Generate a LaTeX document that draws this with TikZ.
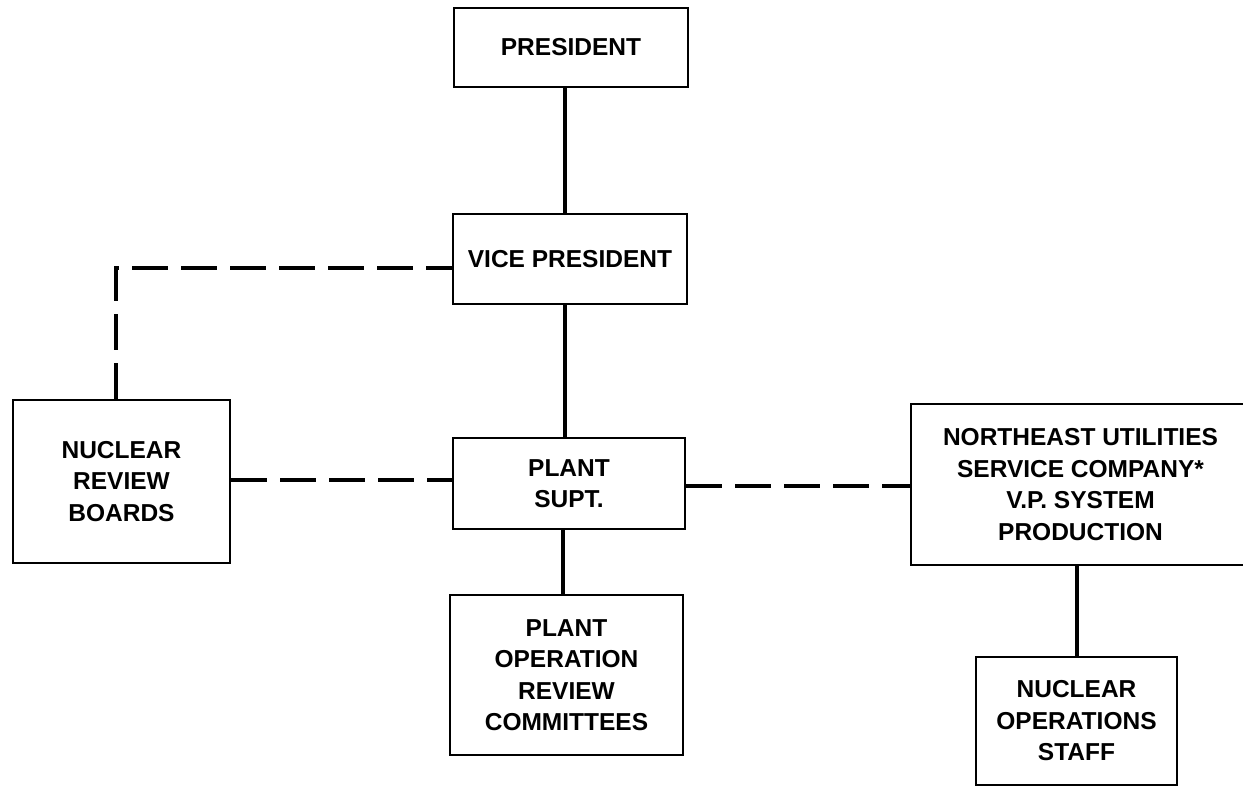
\documentclass[tikz,border=0pt]{standalone}
\usepackage{fontspec}
\setmainfont{Liberation Sans}
\begin{document}
\begin{tikzpicture}[x=1pt,y=-1pt,
  orgbox/.style={draw=black, line width=2.4pt, align=center, inner sep=0pt,
    font=\fontsize{24.5}{31.5}\selectfont\bfseries},
  solidlink/.style={draw=black, line width=4pt},
  dashlink/.style={draw=black, line width=4pt, dash pattern=on 36pt off 13pt}]
\useasboundingbox (0,0) rectangle (1243,787);
\fill[white] (0,0) rectangle (1243,787);

\node[orgbox, minimum width=234pt, minimum height=79pt] (pres) at (571,47.5) {PRESIDENT};
\node[orgbox, minimum width=234pt, minimum height=90pt] (vp) at (570,259) {VICE PRESIDENT};
\node[orgbox, minimum width=217pt, minimum height=163pt] (nrb) at (121.5,481.5) {NUCLEAR\\REVIEW\\BOARDS};
\node[orgbox, minimum width=232pt, minimum height=91pt] (ps) at (569,483.5) {PLANT\\SUPT.};
\node[orgbox, minimum width=233pt, minimum height=160pt] (por) at (566.5,675) {PLANT\\OPERATION\\REVIEW\\COMMITTEES};
\node[orgbox, minimum width=339pt, minimum height=161pt] (nu) at (1080.5,484.5) {NORTHEAST UTILITIES\\SERVICE COMPANY*\\V.P. SYSTEM\\PRODUCTION};
\node[orgbox, minimum width=201pt, minimum height=128pt] (staff) at (1076.5,721) {NUCLEAR\\OPERATIONS\\STAFF};

\draw[solidlink] ([xshift=-6pt]pres.south) -- ([xshift=-5pt]vp.north);
\draw[solidlink] ([xshift=-5pt]vp.south) -- ([xshift=-4pt]ps.north);
\draw[solidlink] ([xshift=-6pt]ps.south) -- ([xshift=-3.5pt]por.north);
\draw[solidlink] (nu.south -| staff.north) -- (staff.north);

\draw[dashlink] ([xshift=-5.5pt]nrb.north) |- ([yshift=-9pt]vp.west);
\draw[dashlink] ([yshift=1.5pt]nrb.east) -- ([yshift=1.5pt]nrb.east -| ps.west);
\draw[dashlink] ([yshift=-2pt]ps.east) -- ([yshift=-2pt]ps.east -| nu.west);
\end{tikzpicture}
\end{document}
